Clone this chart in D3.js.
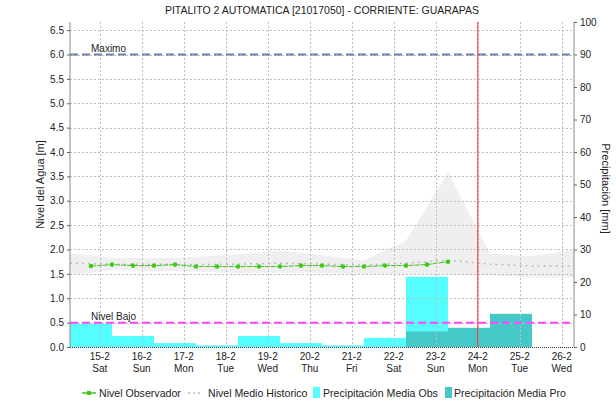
<!DOCTYPE html>
<html>
<head>
  <meta charset="utf-8">
  <script src="https://cdn.jsdelivr.net/npm/d3@7"></script>
  <style>
    body { margin: 0; background: #fff; }
    text { font-family: "Liberation Sans", Arial, sans-serif; fill: #222; }
  </style>
</head>
<body>
<script>
    var width = 616;
    var height = 404;

    // ejes del tiempo: inicio y fin de la ventana, y la hora actual (linea roja)
    var rangeStart = "2020-02-14 07:00";
    var rangeEnd = "2020-02-26 07:00";
    var nowTime = "2020-02-24 00:00";

    var dayTicks = ["2020-02-15", "2020-02-16", "2020-02-17", "2020-02-18", "2020-02-19", "2020-02-20",
                    "2020-02-21", "2020-02-22", "2020-02-23", "2020-02-24", "2020-02-25", "2020-02-26"];
    var dayLabels = ["15-2", "16-2", "17-2", "18-2", "19-2", "20-2", "21-2", "22-2", "23-2", "24-2", "25-2", "26-2"];
    var weekLabels = ["Sat", "Sun", "Mon", "Tue", "Wed", "Thu", "Fri", "Sat", "Sun", "Mon", "Tue", "Wed"];

    // nivel observado [m]
    var obsTimes = ["2020-02-14 19:00", "2020-02-15 07:00", "2020-02-15 19:00", "2020-02-16 07:00",
                    "2020-02-16 19:00", "2020-02-17 07:00", "2020-02-17 19:00", "2020-02-18 07:00",
                    "2020-02-18 19:00", "2020-02-19 07:00", "2020-02-19 19:00", "2020-02-20 07:00",
                    "2020-02-20 19:00", "2020-02-21 07:00", "2020-02-21 19:00", "2020-02-22 07:00",
                    "2020-02-22 19:00", "2020-02-23 07:00"];
    var obsLevel = [1.66, 1.69, 1.67, 1.67, 1.69, 1.65, 1.65, 1.65, 1.65,
                    1.65, 1.67, 1.67, 1.65, 1.65, 1.67, 1.67, 1.69, 1.75];

    // historico: medio, maximo y minimo [m]
    var histTimes = ["2020-02-14 07:00", "2020-02-15 07:00", "2020-02-16 07:00", "2020-02-17 07:00",
                     "2020-02-18 07:00", "2020-02-19 07:00", "2020-02-20 07:00", "2020-02-21 07:00",
                     "2020-02-22 07:00", "2020-02-23 07:00", "2020-02-24 07:00", "2020-02-25 07:00",
                     "2020-02-26 07:00"];
    var histMean = [1.72, 1.70, 1.70, 1.69, 1.70, 1.72, 1.70, 1.68, 1.72, 1.78, 1.70, 1.66, 1.67];
    var histHigh = [1.92, 1.83, 1.82, 1.85, 1.90, 1.98, 1.88, 1.78, 2.18, 3.58, 1.92, 1.86, 2.00];
    var histLow  = [1.47, 1.58, 1.56, 1.55, 1.52, 1.53, 1.52, 1.50, 1.48, 1.48, 1.47, 1.43, 1.42];

    // precipitacion diaria (07:00 a 07:00) [mm]
    var precipStart = ["2020-02-14 07:00", "2020-02-15 07:00", "2020-02-16 07:00", "2020-02-17 07:00",
                       "2020-02-18 07:00", "2020-02-19 07:00", "2020-02-20 07:00", "2020-02-21 07:00",
                       "2020-02-22 07:00", "2020-02-23 07:00", "2020-02-24 07:00", "2020-02-25 07:00"];
    var precipObs = [7.2, 3.4, 1.2, 0.5, 3.4, 1.2, 0.5, 2.8, 21.6, 0, 0, 0];
    var precipPro = [0, 0, 0, 0, 0, 0, 0, 0, 4.8, 5.9, 10.2, 0];

    var levelMax = 6.0;
    var levelLow = 0.5;
    var yTicks = [0, 0.5, 1, 1.5, 2, 2.5, 3, 3.5, 4, 4.5, 5, 5.5, 6, 6.5];
    var y2Ticks = [0, 10, 20, 30, 40, 50, 60, 70, 80, 90, 100];

    var parseT = d3.timeParse("%Y-%m-%d %H:%M");
    var parseD = d3.timeParse("%Y-%m-%d");

    var pL = 70, pR = 574, pT = 22, pB = 347;

    var x = d3.scaleTime().domain([parseT(rangeStart), parseT(rangeEnd)]).range([pL, pR]);
    var y = d3.scaleLinear().domain([0, 100 / 15]).range([pB, pT]);
    var y2 = d3.scaleLinear().domain([0, 100]).range([pB, pT]);

    var svg = d3.select("body")
    .append("svg")
    .attr("width", width)
    .attr("height", height);

    svg.append("defs").append("clipPath").attr("id", "plot")
        .append("rect").attr("x", pL).attr("y", pT).attr("width", pR - pL).attr("height", pB - pT);

    // titulo
    svg.append("text")
        .attr("x", (pL + pR) / 2).attr("y", 14)
        .attr("text-anchor", "middle")
        .style("font-size", "10.5px")
        .text("PITALITO 2 AUTOMATICA [21017050] - CORRIENTE: GUARAPAS");

    var plot = svg.append("g").attr("clip-path", "url(#plot)");

    // banda historica
    var hist = histTimes.map(function(t, i) { return { t: parseT(t), mean: histMean[i], hi: histHigh[i], lo: histLow[i] }; });
    plot.append("path")
        .datum(hist)
        .attr("d", d3.area().x(function(d) { return x(d.t); }).y0(function(d) { return y(d.lo); }).y1(function(d) { return y(d.hi); }))
        .style("fill", "#efefef");

    // grilla
    svg.append("g").selectAll("line")
        .data(yTicks.slice(1))
        .enter().append("line")
        .attr("x1", pL).attr("x2", pR)
        .attr("y1", function(d) { return Math.round(y(d)) + 0.5; }).attr("y2", function(d) { return Math.round(y(d)) + 0.5; })
        .style("stroke", "#bdbdbd").style("stroke-dasharray", "2,2");

    svg.append("g").selectAll("line")
        .data(dayTicks)
        .enter().append("line")
        .attr("x1", function(d) { return Math.round(x(parseD(d))) + 0.5; }).attr("x2", function(d) { return Math.round(x(parseD(d))) + 0.5; })
        .attr("y1", pT).attr("y2", pB)
        .style("stroke", "#bdbdbd").style("stroke-dasharray", "2,2");

    // barras de precipitacion
    var bars = precipStart.map(function(t, i) {
        var s = parseT(t);
        return { s: s, e: d3.timeDay.offset(s, 1), obs: precipObs[i], pro: precipPro[i] };
    });
    plot.append("g").selectAll("rect")
        .data(bars.filter(function(d) { return d.obs > 0; }))
        .enter().append("rect")
        .attr("x", function(d) { return x(d.s); })
        .attr("width", function(d) { return x(d.e) - x(d.s); })
        .attr("y", function(d) { return y2(d.obs); })
        .attr("height", function(d) { return y2(0) - y2(d.obs); })
        .style("fill", "#55ffff");
    plot.append("g").selectAll("rect")
        .data(bars.filter(function(d) { return d.pro > 0; }))
        .enter().append("rect")
        .attr("x", function(d) { return x(d.s); })
        .attr("width", function(d) { return x(d.e) - x(d.s); })
        .attr("y", function(d) { return y2(d.pro); })
        .attr("height", function(d) { return y2(0) - y2(d.pro); })
        .style("fill", "#44c8c8");

    // nivel medio historico
    plot.append("path")
        .datum(hist)
        .attr("d", d3.line().x(function(d) { return x(d.t); }).y(function(d) { return y(d.mean); }))
        .style("fill", "none").style("stroke", "#bbbbbb").style("stroke-width", 1.5)
        .style("stroke-dasharray", "2,4");

    // maximo y nivel bajo
    svg.append("line")
        .attr("x1", pL).attr("x2", pR).attr("y1", y(levelMax)).attr("y2", y(levelMax))
        .style("stroke", "#6f7fa8").style("stroke-width", 2).style("stroke-dasharray", "8,4");
    svg.append("text").attr("x", 91).attr("y", y(levelMax) - 3).style("font-size", "10px").text("Maximo");

    svg.append("line")
        .attr("x1", pL).attr("x2", pR).attr("y1", y(levelLow)).attr("y2", y(levelLow))
        .style("stroke", "#ff44ff").style("stroke-width", 2).style("stroke-dasharray", "8,4");
    svg.append("text").attr("x", 91).attr("y", y(levelLow) - 3).style("font-size", "10px").text("Nivel Bajo");

    // nivel observado
    var obs = obsTimes.map(function(t, i) { return { t: parseT(t), v: obsLevel[i] }; });
    plot.append("path")
        .datum(obs)
        .attr("d", d3.line().x(function(d) { return x(d.t); }).y(function(d) { return y(d.v); }))
        .style("fill", "none").style("stroke", "#44c022").style("stroke-width", 1)
        .style("stroke-dasharray", "5,1");
    plot.append("g").selectAll("circle")
        .data(obs)
        .enter().append("circle")
        .attr("cx", function(d) { return x(d.t); })
        .attr("cy", function(d) { return y(d.v); })
        .attr("r", 2.3)
        .style("fill", "#3ccc14");

    // linea roja: ahora
    svg.append("line")
        .attr("x1", x(parseT(nowTime))).attr("x2", x(parseT(nowTime)))
        .attr("y1", pT).attr("y2", pB)
        .style("stroke", "#ff2a2a").style("stroke-width", 1);

    // ejes
    var yAxis = svg.append("g").attr("transform", "translate(" + pL + ",0)")
        .call(d3.axisLeft(y).tickValues(yTicks).tickFormat(d3.format(".1f")).tickSize(3).tickPadding(3));
    var y2Axis = svg.append("g").attr("transform", "translate(" + pR + ",0)")
        .call(d3.axisRight(y2).tickValues(y2Ticks).tickSize(3).tickPadding(3));
    [yAxis, y2Axis].forEach(function(a) {
        a.select(".domain").style("stroke", "#888").attr("d", "M0," + pT + "V" + pB);
        a.selectAll(".tick line").style("stroke", "#666");
        a.selectAll("text").style("font-size", "10px").style("fill", "#222")
            .style("font-family", "'Liberation Sans', Arial, sans-serif");
    });

    // eje x punteado
    svg.append("line")
        .attr("x1", pL).attr("x2", pR).attr("y1", pB + 0.5).attr("y2", pB + 0.5)
        .style("stroke", "#333").style("stroke-dasharray", "1,1");

    var xt = svg.append("g").selectAll("g")
        .data(dayTicks)
        .enter().append("g")
        .attr("transform", function(d) { return "translate(" + x(parseD(d)) + ",0)"; });
    xt.append("text").attr("y", 360).attr("text-anchor", "middle").style("font-size", "10px")
        .text(function(d, i) { return dayLabels[i]; });
    xt.append("text").attr("y", 372).attr("text-anchor", "middle").style("font-size", "10px")
        .text(function(d, i) { return weekLabels[i]; });

    svg.append("text")
        .attr("transform", "translate(44," + (pT + pB) / 2 + ") rotate(-90)")
        .attr("text-anchor", "middle").style("font-size", "11px")
        .text("Nivel del Agua [m]");
    svg.append("text")
        .attr("transform", "translate(602," + ((pT + pB) / 2 + 4) + ") rotate(90)")
        .attr("text-anchor", "middle").style("font-size", "11px")
        .text("Precipitación [mm]");

    // leyenda
    var ly = 393;
    var lg = svg.append("g");
    lg.append("line").attr("x1", 82).attr("x2", 96).attr("y1", ly).attr("y2", ly)
        .style("stroke", "#44c022").style("stroke-width", 1.5);
    lg.append("rect").attr("x", 87).attr("y", ly - 2).attr("width", 4).attr("height", 4).style("fill", "#3ccc14");
    lg.append("text").attr("x", 99).attr("y", ly + 4).style("font-size", "10.6px").text("Nivel Observador");

    lg.append("line").attr("x1", 188).attr("x2", 203).attr("y1", ly).attr("y2", ly)
        .style("stroke", "#bbbbbb").style("stroke-width", 1.5).style("stroke-dasharray", "2,3");
    lg.append("text").attr("x", 208).attr("y", ly + 4).style("font-size", "10.6px").text("Nivel Medio Historico");

    lg.append("rect").attr("x", 313).attr("y", ly - 6).attr("width", 7).attr("height", 11).style("fill", "#55ffff");
    lg.append("text").attr("x", 323).attr("y", ly + 4).style("font-size", "10.6px").text("Precipitación Media Obs");

    lg.append("rect").attr("x", 445).attr("y", ly - 6).attr("width", 7).attr("height", 11).style("fill", "#44c8c8");
    lg.append("text").attr("x", 454).attr("y", ly + 4).style("font-size", "10.6px").text("Precipitación Media Pro");
</script>
</body>
</html>
